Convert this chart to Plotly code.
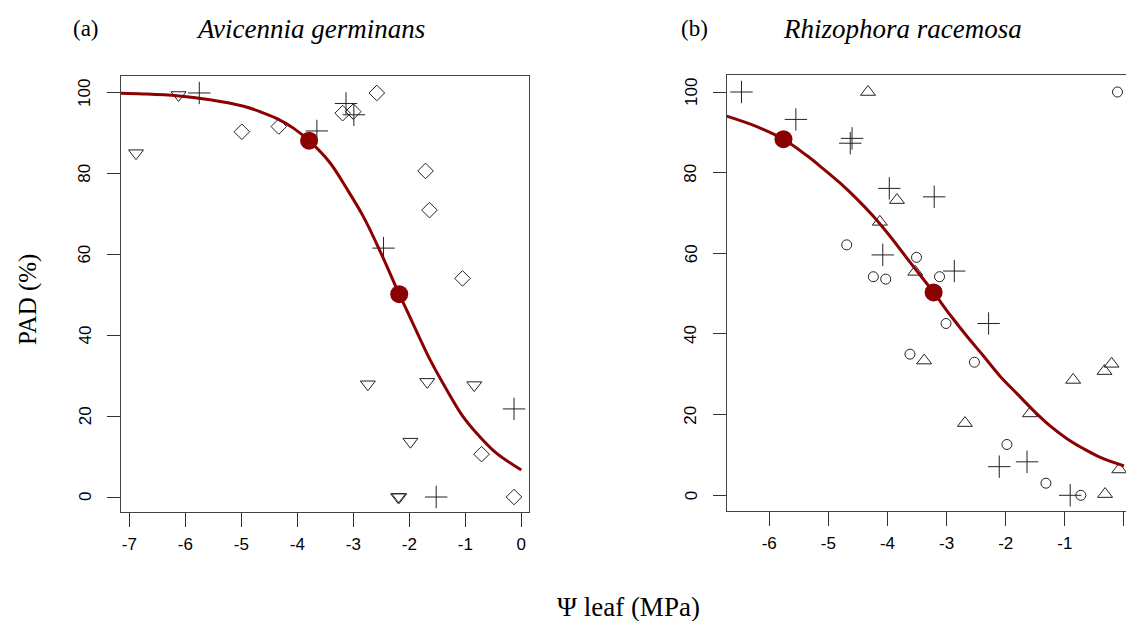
import plotly.graph_objects as go

# ---------------- data ----------------
# Panel (a) Avicennia germinans
a_tri_down_x = [-6.88, -6.12, -2.74, -1.68, -0.84, -1.98, -2.20, -2.18]
a_tri_down_y = [85.1, 99.5, 27.9, 28.5, 27.7, 13.7, 0.0, 0.0]
a_plus_x = [-5.75, -3.65, -3.13, -2.99, -2.46, -0.13, -1.52]
a_plus_y = [100.0, 90.6, 97.4, 94.6, 61.6, 21.8, 0.0]
a_diamond_x = [-4.99, -4.33, -3.19, -3.00, -2.58, -1.71, -1.64, -1.05, -0.71, -0.13]
a_diamond_y = [90.4, 91.7, 95.0, 95.4, 100.0, 80.7, 71.0, 54.1, 10.6, 0.0]
a_curve_x = [-7.15, -6.75, -6.15, -5.56, -4.96, -4.67, -4.37, -4.07, -3.79, -3.42, -3.12,
             -2.82, -2.51, -2.18, -1.99, -1.63, -1.33, -1.04, -0.74, -0.44, 0.0]
a_curve_y = [99.9, 99.75, 99.3, 98.3, 96.7, 95.4, 93.7, 91.3, 88.2, 82.8, 76.4,
             69.4, 60.5, 50.2, 44.6, 34.0, 26.5, 19.9, 14.9, 10.8, 6.7]
a_key_x = [-3.79, -2.18]
a_key_y = [88.2, 50.2]

# Panel (b) Rhizophora racemosa
b_plus_x = [-6.47, -5.55, -4.60, -4.63, -3.97, -4.08, -3.21, -2.87, -2.29, -2.11, -1.64, -0.91]
b_plus_y = [100.0, 93.2, 88.5, 87.3, 76.1, 59.6, 74.0, 55.6, 42.6, 7.1, 8.3, 0.0]
b_tri_up_x = [-4.33, -3.84, -4.13, -3.53, -3.38, -0.86, -0.21, -0.33, -1.59, -2.69, -0.32, -0.08]
b_tri_up_y = [100.0, 73.2, 67.8, 55.4, 33.4, 28.6, 32.6, 30.8, 20.3, 17.9, 0.3, 6.4]
b_circle_x = [-4.69, -4.24, -4.03, -3.51, -3.12, -3.01, -3.62, -2.53, -1.98, -1.32, -0.73, -0.11]
b_circle_y = [62.1, 54.2, 53.6, 59.0, 54.2, 42.6, 35.0, 33.0, 12.6, 3.0, 0.0, 100.0]
b_curve_x = [-6.72, -6.21, -5.76, -5.37, -5.09, -4.80, -4.52, -4.24, -3.96, -3.62, -3.22,
             -2.94, -2.66, -2.38, -2.10, -1.81, -1.53, -1.25, -0.97, -0.69, -0.40, 0.0]
b_curve_y = [94.0, 91.4, 88.3, 84.3, 81.0, 77.4, 73.5, 69.2, 64.3, 57.8, 50.3,
             44.7, 39.5, 34.6, 29.6, 25.2, 21.0, 17.2, 14.1, 11.6, 9.4, 7.3]
b_key_x = [-5.76, -3.22]
b_key_y = [88.3, 50.3]

a_xticks = [-7, -6, -5, -4, -3, -2, -1, 0]
a_xtick_text = ["-7", "-6", "-5", "-4", "-3", "-2", "-1", "0"]
b_xticks = [-6, -5, -4, -3, -2, -1, 0]
b_xtick_text = ["-6", "-5", "-4", "-3", "-2", "-1", "0"]
yticks = [0, 20, 40, 60, 80, 100]
ytick_text = ["0", "20", "40", "60", "80", "100"]

# ---------------- figure ----------------
W, H = 1126, 621
RED = "#8B0000"
MK = "#222222"
SERIF = "Liberation Serif, Times New Roman, serif"
SANS = "Liberation Sans, Arial, sans-serif"

fig = go.Figure()

def pts(x, y, sym, size, xa, ya):
    fig.add_trace(go.Scatter(x=x, y=y, mode="markers", xaxis=xa, yaxis=ya,
                             marker=dict(symbol=sym, size=size, color=MK,
                                         line=dict(color=MK, width=1)),
                             showlegend=False, hoverinfo="skip"))

# panel a
pts(a_tri_down_x, a_tri_down_y, "triangle-down-open", 13, "x", "y")
pts(a_plus_x, a_plus_y, "cross-thin-open", 16, "x", "y")
pts(a_diamond_x, a_diamond_y, "diamond-open", 12, "x", "y")
fig.add_trace(go.Scatter(x=a_curve_x, y=a_curve_y, mode="lines", line=dict(color=RED, width=3, shape="spline"),
                         xaxis="x", yaxis="y", showlegend=False, hoverinfo="skip"))
fig.add_trace(go.Scatter(x=a_key_x, y=a_key_y, mode="markers", marker=dict(color=RED, size=18),
                         xaxis="x", yaxis="y", showlegend=False, hoverinfo="skip"))
# panel b
pts(b_plus_x, b_plus_y, "cross-thin-open", 16, "x2", "y2")
pts(b_tri_up_x, b_tri_up_y, "triangle-up-open", 13, "x2", "y2")
pts(b_circle_x, b_circle_y, "circle-open", 10, "x2", "y2")
fig.add_trace(go.Scatter(x=b_curve_x, y=b_curve_y, mode="lines", line=dict(color=RED, width=3, shape="spline"),
                         xaxis="x2", yaxis="y2", showlegend=False, hoverinfo="skip"))
fig.add_trace(go.Scatter(x=b_key_x, y=b_key_y, mode="markers", marker=dict(color=RED, size=18),
                         xaxis="x2", yaxis="y2", showlegend=False, hoverinfo="skip"))

common_x = dict(showgrid=False, zeroline=False, showline=True, mirror=True, linecolor="#444", linewidth=1,
                ticks="outside", ticklen=14, tickwidth=1, tickcolor="#333",
                tickfont=dict(family=SANS, size=17, color="black"), ticklabelstandoff=3,
                automargin=False, fixedrange=True)
common_y = dict(showgrid=False, zeroline=False, showline=True, mirror=True, linecolor="#444", linewidth=1,
                ticks="outside", ticklen=13, tickwidth=1, tickcolor="#333",
                tickvals=yticks, showticklabels=False,
                automargin=False, fixedrange=True)

fig.update_layout(
    width=W, height=H, margin=dict(l=0, r=0, t=0, b=0),
    paper_bgcolor="white", plot_bgcolor="white",
    xaxis=dict(common_x, domain=[121 / W, 529 / W], range=[-7.148, 0.1375],
               tickvals=a_xticks, ticktext=a_xtick_text, anchor="y"),
    yaxis=dict(common_y, domain=[1 - 512 / H, 1 - 76 / H], range=[-3.71, 104.2], anchor="x"),
    xaxis2=dict(common_x, domain=[726.7 / W, 1.0], range=[-6.72, 0.034],
                tickvals=b_xticks, ticktext=b_xtick_text, anchor="y2"),
    yaxis2=dict(common_y, domain=[1 - 510.7 / H, 1 - 75.3 / H], range=[-3.82, 104.14], anchor="x2"),
)

# y tick labels, rotated (parallel to the axis) as in the reference
for v, t in zip(yticks, ytick_text):
    for yref, xpix in (("y", 85), ("y2", 691)):
        fig.add_annotation(text=t, x=xpix / W, y=v, xref="paper", yref=yref, showarrow=False,
                           xanchor="center", yanchor="middle", textangle=-90,
                           font=dict(family=SANS, size=17, color="black"))

def ann(text, x, y, size, italic=False, angle=0):
    fig.add_annotation(text=text, x=x / W, y=1 - y / H, xref="paper", yref="paper",
                       showarrow=False, xanchor="center", yanchor="middle", textangle=angle,
                       font=dict(family=SERIF, size=size, color="black",
                                 style="italic" if italic else "normal"))

ann("(a)", 86, 29, 23)
ann("Avicennia germinans", 310, 29, 27, italic=True)
ann("(b)", 694, 29, 23)
ann("Rhizophora racemosa", 902, 29, 27, italic=True)
ann("PAD (%)", 28, 300, 25, angle=-90)
ann("\u03a8 leaf (MPa)", 628, 607, 27)

fig.write_html("out.html")
